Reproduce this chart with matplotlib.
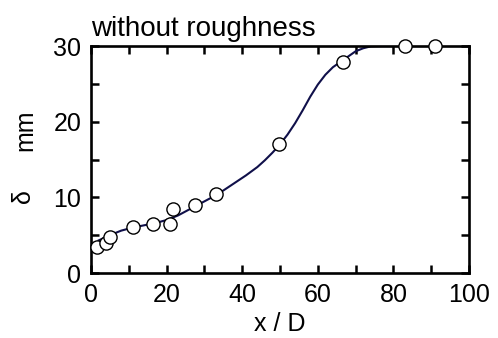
import matplotlib.pyplot as plt

plt.rcParams['font.family'] = ['Liberation Sans', 'DejaVu Sans']

# measured points
x_pts = [1.5, 4.0, 5.0, 11.0, 16.5, 20.8, 21.6, 27.5, 33.0, 49.8, 66.6, 83.0, 91.0]
d_pts = [3.5, 3.9, 4.8, 6.1, 6.5, 6.5, 8.4, 9.0, 10.4, 17.0, 27.9, 30.0, 30.0]

# fitted curve
x_fit = [2, 5, 8, 11, 14, 17, 20, 23, 26, 29, 32, 35, 38, 41, 44, 46, 48, 50,
         52, 54, 56, 58, 60, 62, 64, 66, 68, 70, 72, 74, 77, 80, 85, 91]
d_fit = [4.3, 5.0, 5.6, 6.0, 6.3, 6.6, 7.0, 7.6, 8.4, 9.2, 10.0, 10.9, 11.9,
         12.9, 14.0, 14.9, 15.9, 17.0, 18.3, 19.8, 21.5, 23.3, 24.9, 26.2,
         27.2, 27.9, 28.6, 29.3, 29.7, 29.95, 30.0, 30.0, 30.0, 30.0]

fig = plt.figure(figsize=(4.98, 3.38), dpi=100)
ax = fig.add_axes([0.1827, 0.1923, 0.7591, 0.6716])

ax.plot(x_fit, d_fit, color='#10104a', lw=1.5, zorder=2)
ax.plot(x_pts, d_pts, 'o', ms=9.5, mfc='white', mec='black', mew=1.0,
        clip_on=False, zorder=3)

ax.set_xlim(0, 100)
ax.set_ylim(0, 30)
ax.set_xticks(range(0, 101, 10))
ax.set_xticklabels([str(v) if v % 20 == 0 else '' for v in range(0, 101, 10)])
ax.set_yticks(range(0, 31, 5))
ax.set_yticklabels([str(v) if v % 10 == 0 else '' for v in range(0, 31, 5)])
ax.tick_params(direction='in', top=True, right=True, length=6, width=1.8,
               labelsize=18, pad=7)
for s in ax.spines.values():
    s.set_linewidth(1.9)

ax.set_xlabel('x / D', fontsize=18, labelpad=4)
ax.text(-0.18, 0.34, 'δ', transform=ax.transAxes, rotation=90,
        fontsize=18, ha='center', va='center')
ax.text(-0.175, 0.63, 'mm', transform=ax.transAxes, rotation=90,
        fontsize=18, ha='center', va='center')
ax.set_title('without roughness', loc='left', fontsize=20, pad=7)

fig.savefig('out.png', dpi=100)
